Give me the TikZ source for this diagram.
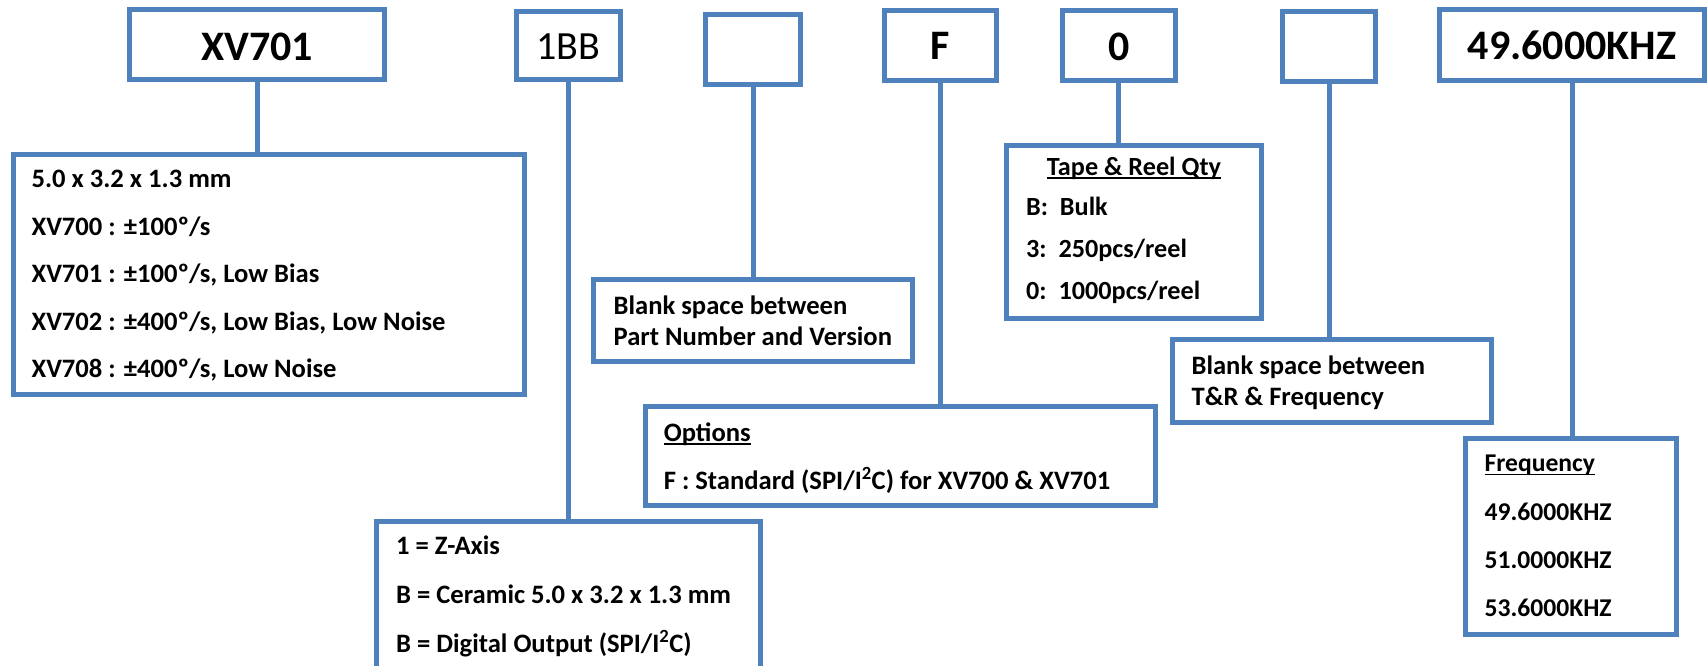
\documentclass[tikz,border=0pt]{standalone}
\usepackage{fontspec}
\setmainfont{Carlito}
\usetikzlibrary{fit}
\definecolor{myblue}{HTML}{4F81BD}
\newcommand\myul[1]{\setbox0\hbox{#1}\rlap{\rule[-3.6pt]{\wd0}{1.8pt}}\box0}
\tikzset{
  box/.style={draw=myblue, line width=5pt, fill=white, inner sep=0pt, rectangle},
  conn/.style={draw=myblue, line width=5pt},
  big/.style={inner sep=0pt, anchor=base, font=\fontsize{42}{50}\selectfont\bfseries},
  bigreg/.style={inner sep=0pt, anchor=base, font=\fontsize{40}{48}\selectfont},
  txt/.style={inner sep=0pt, anchor=base west, font=\fontsize{26.6}{32}\selectfont\bfseries},
  txtt/.style={txt, font=\fontsize{26.2}{32}\selectfont\bfseries},
  txtf/.style={txt, font=\fontsize{25.6}{31}\selectfont\bfseries},
}
\begin{document}
\begin{tikzpicture}[x=1pt,y=-1pt]
\useasboundingbox (0,0) rectangle (1707,666);
% top boxes
\node[box, fit={(129.5,10) (384.5,80)}] (xv) {};
\node[box, fit={(516,11.5) (620,80)}] (bb) {};
\node[box, fit={(705.5,15) (800.5,84.5)}] (blA) {};
\node[box, fit={(884.5,10.5) (996.5,80.5)}] (fb) {};
\node[box, fit={(1062.5,10.5) (1175,80.5)}] (zb) {};
\node[box, fit={(1282.5,11.5) (1375.5,81.5)}] (blB) {};
\node[box, fit={(1439.5,10) (1704.5,80.5)}] (fq) {};
% lower boxes
\node[box, fit={(13,154) (524.5,394.5)}] (spec) {};
\node[box, fit={(593.5,279.5) (912.5,361.5)}] (blAd) {};
\node[box, fit={(1006.5,145.5) (1261.5,318.5)}] (tape) {};
\node[box, fit={(645.5,406.5) (1155.5,505.5)}] (opt) {};
\node[box, fit={(376.5,521.5) (760.5,690)}] (zax) {};
\node[box, fit={(1172.5,339.5) (1491.5,422.5)}] (blBd) {};
\node[box, fit={(1465.5,438.5) (1676.5,634.5)}] (freq) {};
% connectors
\draw[conn] (xv.south) -- (xv.south |- spec.north);
\draw[conn] (bb.south) -- (bb.south |- zax.north);
\draw[conn] (blA.south) -- (blA.south |- blAd.north);
\draw[conn] (fb.south) -- (fb.south |- opt.north);
\draw[conn] (zb.south) -- (zb.south |- tape.north);
\draw[conn] (blB.south) -- (blB.south |- blBd.north);
\draw[conn] (fq.south) -- (fq.south |- freq.north);
% top labels
\node[big] (xvt) at (257,60.7) {XV701};
\node[bigreg] (bbt) at (568,60) {1BB};
\node[big] (fbt) at (940.5,60) {F};
\node[big] (zbt) at (1118.75,60.5) {0};
\node[big] (fqt) at (1572,60) {49.6000KHZ};
% spec box
\node[txt] (s1) at (31.4,187.3) {5.0 x 3.2 x 1.3 mm};
\node[txt] (s2) at (31.4,235) {XV700 : ±100º/s};
\node[txt] (s3) at (31.4,282.7) {XV701 : ±100º/s, Low Bias};
\node[txt] (s4) at (31.4,330.7) {XV702 : ±400º/s, Low Bias, Low Noise};
\node[txt] (s5) at (31.4,377.7) {XV708 : ±400º/s, Low Noise};
% blank space A
\node[txt] (a1) at (613.5,314) {Blank space between};
\node[txt] (a2) at (613.5,345.7) {Part Number and Version};
% tape
\node[txtt, anchor=base] (t0) at (1134,175) {\myul{Tape \& Reel Qty}};
\node[txtt] (t1) at (1026,215.7) {B:\ \ Bulk};
\node[txtt] (t2) at (1026,257.3) {3:\ \ 250pcs/reel};
\node[txtt] (t3) at (1026,299) {0:\ \ 1000pcs/reel};
% blank space B
\node[txt] (b1) at (1191.4,374) {Blank space between};
\node[txt] (b2) at (1191.4,405.7) {T\&R \& Frequency};
% options
\node[txt] (o1) at (663.6,441) {\myul{Options}};
\node[txt] (o2) at (663.6,489) {F : Standard (SPI/I\textsuperscript{2}C) for XV700 \& XV701};
% z axis
\node[txt] (z1) at (396,554.3) {1 = Z-Axis};
\node[txt] (z2) at (396,603.3) {B = Ceramic 5.0 x 3.2 x 1.3 mm};
\node[txt] (z3) at (396,652) {B = Digital Output (SPI/I\textsuperscript{2}C)};
% frequency
\node[txtf] (f0) at (1484.4,471.7) {\myul{Frequency}};
\node[txtf] (f1) at (1484.4,520) {49.6000KHZ};
\node[txtf] (f2) at (1484.4,568.3) {51.0000KHZ};
\node[txtf] (f3) at (1484.4,616) {53.6000KHZ};
\end{tikzpicture}
\end{document}
